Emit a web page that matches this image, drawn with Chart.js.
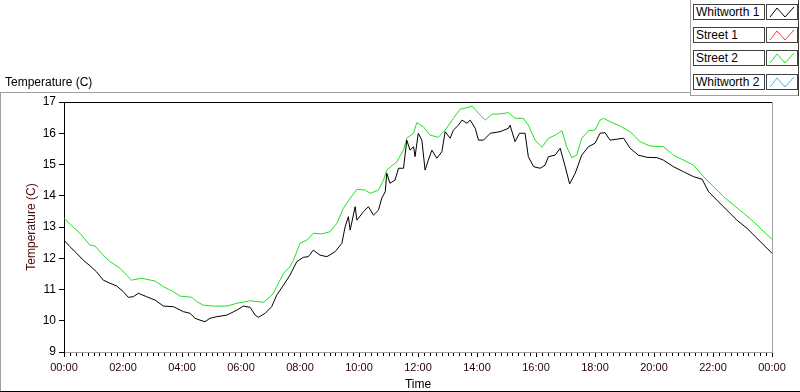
<!DOCTYPE html>
<html>
<head>
<meta charset="utf-8">
<script src="https://cdn.jsdelivr.net/npm/chart.js@4"></script>
<style>
  html, body { margin: 0; padding: 0; background: #fff; }
  #wrap { position: relative; width: 800px; height: 392px; overflow: hidden; font-family: "Liberation Sans", Arial, sans-serif; }
  #chart { position: absolute; left: 0; top: 0; }
  .ln { position: absolute; }
  .title { position: absolute; left: 5px; top: 75px; font-size: 12px; color: #000; }
  .lgName { position: absolute; left: 693px; width: 68px; height: 14px; border: 1px solid #404040; background: #fff; font-size: 12px; line-height: 14px; padding-left: 2px; box-sizing: content-box; }
  .lgSwatch { position: absolute; left: 766px; width: 30px; height: 14px; border: 1px solid #404040; background: #fff; }
</style>
</head>
<body>
<div id="wrap">
  <canvas id="chart" width="800" height="392"></canvas>
  <div class="ln" style="left:0;top:92px;width:690px;height:1px;background:#a0a0a0"></div>
  <div class="ln" style="left:0;top:92px;width:1px;height:300px;background:#a0a0a0"></div>
  <div class="ln" style="left:0;top:391px;width:800px;height:1px;background:#000"></div>
  <div class="ln" style="left:690px;top:0;width:1px;height:95px;background:#a0a0a0"></div>
  <div class="ln" style="left:690px;top:95px;width:108px;height:1px;background:#a0a0a0"></div>
  <div class="ln" style="left:798px;top:0;width:1px;height:96px;background:#404040"></div>
  <div class="title">Temperature (C)</div>
  <div id="legend"></div>
</div>
<script>
const FONT = '"Liberation Sans", Arial, sans-serif';

// series names and colours (legend order)
const seriesNames = ['Whitworth 1', 'Street 1', 'Street 2', 'Whitworth 2'];
const seriesColors = ['#000000', '#ff3a3a', '#1fe01f', '#3cb4ff'];

// time of day in hours
const whitworth1Hours = [0, 0.2, 0.43, 0.65, 0.88, 1.1, 1.33, 1.56, 1.79, 2.01, 2.18, 2.35, 2.52, 2.8, 3.09, 3.37, 3.71, 4.05, 4.27, 4.44,
  4.61, 4.78, 4.95, 5.18, 5.52, 5.86, 6.08, 6.31, 6.48, 6.59, 6.82, 7.04, 7.21, 7.44, 7.66, 7.89, 8.11, 8.28, 8.45, 8.68,
  8.91, 9.19, 9.42, 9.53, 9.64, 9.7, 9.87, 9.93, 10.15, 10.32, 10.49, 10.66, 10.77, 10.89, 10.94, 11.05, 11.22, 11.34, 11.51, 11.62,
  11.73, 11.85, 11.9, 12.01, 12.13, 12.24, 12.35, 12.47, 12.64, 12.81, 12.92, 13.09, 13.2, 13.37, 13.49, 13.66, 13.77, 13.94, 14.05, 14.22,
  14.45, 14.78, 15.07, 15.12, 15.29, 15.44, 15.63, 15.74, 15.92, 16.14, 16.31, 16.42, 16.65, 16.82, 16.99, 17.14, 17.33, 17.55, 17.78, 18.0,
  18.17, 18.34, 18.51, 18.74, 18.97, 19.19, 19.47, 19.76, 20.1, 20.32, 20.66, 21.0, 21.34, 21.63, 21.85, 22.13, 22.47, 22.81, 23.15, 23.49,
  23.83, 24.0];
const whitworth1Temps = [12.58, 12.37, 12.16, 11.94, 11.76, 11.57, 11.30, 11.20, 11.11, 10.93, 10.75, 10.77, 10.88, 10.77, 10.66, 10.47, 10.45, 10.29, 10.24, 10.08,
  10.02, 9.97, 10.08, 10.13, 10.18, 10.34, 10.47, 10.43, 10.18, 10.11, 10.24, 10.45, 10.82, 11.14, 11.46, 11.89, 12.03, 12.05, 12.26, 12.10,
  12.05, 12.21, 12.48, 13.01, 13.33, 12.90, 13.65, 13.22, 13.49, 13.65, 13.38, 13.54, 13.92, 14.13, 14.72, 14.40, 14.50, 14.88, 14.88, 15.78,
  15.46, 15.57, 15.25, 16.00, 15.78, 14.82, 15.14, 15.46, 15.20, 15.41, 16.05, 15.84, 16.10, 16.26, 16.42, 16.32, 16.42, 16.16, 15.78, 15.78,
  16.00, 16.05, 16.16, 16.26, 15.73, 16.00, 16.00, 15.25, 14.93, 14.88, 14.98, 15.25, 15.30, 15.52, 14.93, 14.38, 14.72, 15.30, 15.57, 15.68,
  16.00, 16.02, 15.78, 15.81, 15.84, 15.52, 15.30, 15.23, 15.22, 15.14, 14.93, 14.77, 14.61, 14.53, 14.13, 13.86, 13.54, 13.22, 12.96, 12.64,
  12.32, 12.16];

const street2Hours = [0, 0.2, 0.54, 0.88, 1.05, 1.33, 1.56, 1.9, 2.12, 2.29, 2.63, 3.09, 3.37, 3.71, 3.93, 4.33, 4.5, 4.72, 5.06, 5.52,
  5.86, 6.31, 6.76, 6.99, 7.1, 7.21, 7.32, 7.44, 7.66, 7.78, 8.0, 8.23, 8.45, 8.74, 9.02, 9.25, 9.47, 9.7, 9.93, 10.21,
  10.38, 10.66, 10.83, 10.94, 11.28, 11.51, 11.62, 11.85, 11.96, 12.18, 12.41, 12.69, 12.92, 13.2, 13.43, 13.66, 13.83, 14.05, 14.28, 14.5,
  14.78, 15.07, 15.29, 15.57, 15.74, 15.97, 16.2, 16.42, 16.65, 16.88, 17.04, 17.21, 17.38, 17.55, 17.78, 18.0, 18.17, 18.29, 18.51, 18.85,
  19.19, 19.53, 19.87, 20.32, 20.66, 21.0, 21.34, 21.68, 22.02, 22.36, 22.7, 23.04, 23.38, 23.72, 24.0];
const street2Temps = [13.28, 13.09, 12.80, 12.42, 12.39, 12.10, 11.89, 11.68, 11.46, 11.30, 11.36, 11.27, 11.09, 10.93, 10.79, 10.75, 10.61, 10.50, 10.47, 10.47,
  10.56, 10.64, 10.59, 10.77, 10.88, 11.10, 11.30, 11.52, 11.73, 11.94, 12.48, 12.58, 12.80, 12.78, 12.85, 13.12, 13.60, 13.92, 14.21, 14.18,
  14.08, 14.18, 14.50, 14.82, 15.09, 15.46, 15.84, 16.00, 16.34, 16.21, 15.94, 15.87, 16.10, 16.48, 16.77, 16.82, 16.87, 16.64, 16.42, 16.61,
  16.62, 16.66, 16.48, 16.48, 16.26, 15.78, 15.55, 15.84, 15.94, 16.08, 15.57, 15.22, 15.30, 15.84, 16.08, 16.10, 16.42, 16.48, 16.37, 16.23,
  16.05, 15.73, 15.59, 15.57, 15.30, 15.14, 14.98, 14.61, 14.29, 13.97, 13.70, 13.44, 13.17, 12.85, 12.61];

const yTicks = [9, 10, 11, 12, 13, 14, 15, 16, 17];

// html legend
const legendEl = document.getElementById('legend');
const legendTops = [4, 27, 50, 74];
seriesNames.forEach((name, i) => {
  const n = document.createElement('div');
  n.className = 'lgName';
  n.style.top = legendTops[i] + 'px';
  n.textContent = name;
  legendEl.appendChild(n);
  const s = document.createElement('div');
  s.className = 'lgSwatch';
  s.style.top = legendTops[i] + 'px';
  s.innerHTML = '<svg width="30" height="14"><polyline points="3,12 10,3 18,12 27,2" fill="none" stroke="' +
    seriesColors[i] + '" stroke-width="1"/></svg>';
  legendEl.appendChild(s);
});

function pts(hours, temps) {
  return hours.map((h, i) => ({ x: h, y: temps[i] }));
}

// minor ticks on the time axis + the sunken frame of the plot
const framePlugin = {
  id: 'frame',
  afterDraw(chart) {
    const { ctx, chartArea, scales } = chart;
    const x = scales.x;
    ctx.save();
    ctx.strokeStyle = '#000';
    ctx.lineWidth = 1;
    ctx.beginPath();
    for (let v = 0; v <= 24.001; v += 0.2) {
      const r = Math.round(v * 10) / 10;
      if (Math.abs(r % 2) < 0.01) continue;
      const px = Math.round(x.getPixelForValue(r)) + 0.5;
      ctx.moveTo(px, chartArea.bottom + 1);
      ctx.lineTo(px, chartArea.bottom + 4);
    }
    ctx.stroke();
    ctx.beginPath();
    ctx.moveTo(chartArea.left, chartArea.top + 0.5);
    ctx.lineTo(chartArea.right, chartArea.top + 0.5);
    ctx.stroke();
    ctx.strokeStyle = '#a0a0a0';
    ctx.beginPath();
    ctx.moveTo(chartArea.right + 0.5, chartArea.top);
    ctx.lineTo(chartArea.right + 0.5, chartArea.bottom);
    ctx.stroke();
    ctx.restore();
  }
};

new Chart(document.getElementById('chart'), {
  type: 'line',
  data: {
    datasets: [
      {
        label: seriesNames[0],
        data: pts(whitworth1Hours, whitworth1Temps),
        borderColor: seriesColors[0],
        borderWidth: 1,
        pointRadius: 0,
        tension: 0
      },
      {
        label: seriesNames[2],
        data: pts(street2Hours, street2Temps),
        borderColor: seriesColors[2],
        borderWidth: 1,
        pointRadius: 0,
        tension: 0
      }
    ]
  },
  options: {
    responsive: false,
    animation: false,
    layout: { padding: { top: 102, right: 28, left: 0, bottom: 0 } },
    plugins: {
      legend: { display: false },
      tooltip: { enabled: false }
    },
    scales: {
      x: {
        type: 'linear',
        min: 0,
        max: 24,
        grid: { drawOnChartArea: false, drawTicks: true, tickLength: 5, color: '#000' },
        border: { display: true, color: '#a0a0a0' },
        ticks: {
          stepSize: 2,
          autoSkip: false,
          maxRotation: 0,
          padding: 4,
          color: '#2a0008',
          font: { family: FONT, size: 11 },
          callback: v => String(v % 24).padStart(2, '0') + ':00'
        },
        title: { display: true, text: 'Time', color: '#000', font: { family: FONT, size: 12 }, padding: 0 },
        afterFit: s => { s.height = 40; }
      },
      y: {
        min: 9,
        max: 17,
        grid: { drawOnChartArea: false, drawTicks: true, tickLength: 5, color: '#000' },
        border: { display: true, color: '#000' },
        afterBuildTicks: s => { s.ticks = yTicks.map(v => ({ value: v })); },
        ticks: {
          padding: 3,
          color: '#000',
          font: { family: FONT, size: 12 }
        },
        title: { display: true, text: 'Temperature (C)', color: '#4a0c0c', font: { family: FONT, size: 12 }, padding: { top: 24, bottom: 0 } },
        afterFit: s => { s.width = 64; }
      }
    }
  },
  plugins: [framePlugin]
});
</script>
</body>
</html>
